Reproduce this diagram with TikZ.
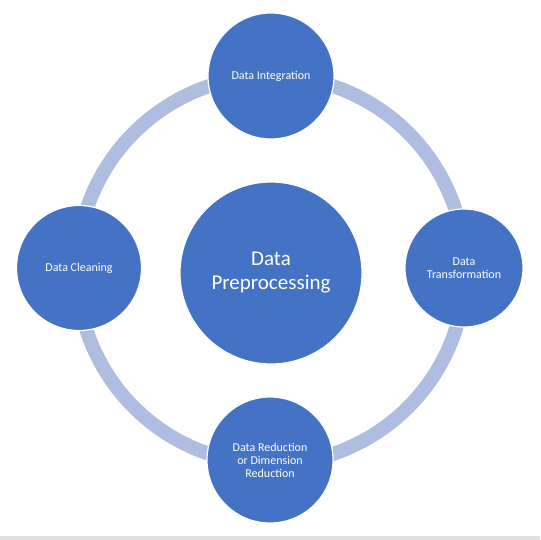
\documentclass[tikz,border=0pt]{standalone}
\usepackage{fontspec}
\setmainfont{Carlito}
\definecolor{nodeblue}{RGB}{68,114,196}
\definecolor{ringblue}{RGB}{175,190,224}
\definecolor{edgegray}{RGB}{224,224,224}

\begin{document}
\begin{tikzpicture}[x=1pt,y=-1pt]
\tikzstyle{stage}=[draw=white, line width=1.2pt, circle, fill=nodeblue, text=white, align=center, inner sep=0pt, font=\fontsize{12}{13}\selectfont]
\tikzstyle{hub}=[stage, minimum size=182pt, font=\fontsize{21}{24}\selectfont]
\tikzstyle{ring}=[draw=ringblue, line width=14pt]
    \useasboundingbox (0,0) rectangle (540,540);
    \fill[edgegray] (0,536) rectangle (540,540);

    \coordinate (c) at (271,270);
    \draw[ring] (c) circle[radius=194];

    \node[hub] (dp) at (271,273) {Data\\Preprocessing};
    \node[stage, minimum size=126pt] (di) at (271,76) {Data Integration};
    \node[stage, minimum size=118pt] (dt) at (464,268) {Data\\Transformation};
    \node[stage, minimum size=126pt] (dr) at (270,460) {Data Reduction\\or Dimension\\Reduction};
    \node[stage, minimum size=125pt] (dc) at (79,268) {Data Cleaning};

\end{tikzpicture}
\end{document}
